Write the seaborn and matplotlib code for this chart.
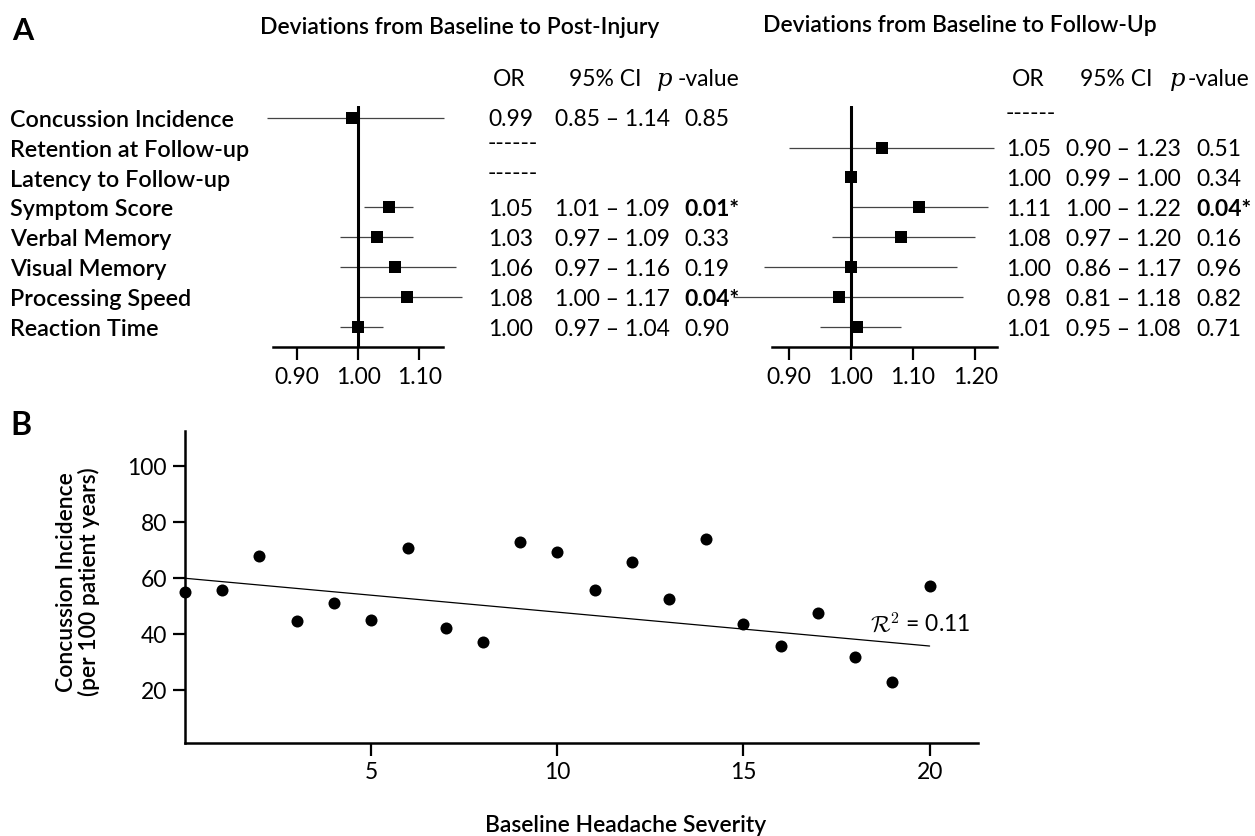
import numpy as np
import pandas as pd
import matplotlib
matplotlib.use("Agg")
import matplotlib.pyplot as plt
import matplotlib.transforms as mtransforms
from matplotlib.ticker import FormatStrFormatter
import seaborn as sns

# --- data -------------------------------------------------------------
rows = ["Concussion Incidence", "Retention at Follow-up", "Latency to Follow-up",
        "Symptom Score", "Verbal Memory", "Visual Memory", "Processing Speed",
        "Reaction Time"]

nan = np.nan
post_or = np.array([0.99, nan, nan, 1.05, 1.03, 1.06, 1.08, 1.00])
post_lo = np.array([0.85, nan, nan, 1.01, 0.97, 0.97, 1.00, 0.97])
post_hi = np.array([1.14, nan, nan, 1.09, 1.09, 1.16, 1.17, 1.04])
post_p = np.array([0.85, nan, nan, 0.01, 0.33, 0.19, 0.04, 0.90])

fu_or = np.array([nan, 1.05, 1.00, 1.11, 1.08, 1.00, 0.98, 1.01])
fu_lo = np.array([nan, 0.90, 0.99, 1.00, 0.97, 0.86, 0.81, 0.95])
fu_hi = np.array([nan, 1.23, 1.00, 1.22, 1.20, 1.17, 1.18, 1.08])
fu_p = np.array([nan, 0.51, 0.34, 0.04, 0.16, 0.96, 0.82, 0.71])

post_ticks = [0.90, 1.00, 1.10]
fu_ticks = [0.90, 1.00, 1.10, 1.20]

severity = np.arange(0, 21)
incidence = [54.8, 55.6, 67.8, 44.5, 50.8, 45.0, 70.7, 42.0, 37.2, 72.9, 69.3,
             55.6, 65.5, 52.3, 73.7, 43.6, 35.5, 47.5, 31.8, 22.8, 57.1]
fit_x = [0, 20]
fit_y = [59.8, 35.6]
r2_text = r"$\mathcal{R}^2$ = 0.11"

# --- style ------------------------------------------------------------
sns.set_theme(style="white", rc={"axes.edgecolor": "black", "text.color": "black",
                                 "xtick.color": "black", "ytick.color": "black"})
plt.rcParams["font.family"] = ["Lato", "DejaVu Sans"]
plt.rcParams["mathtext.fontset"] = "cm"

W, H = 1255, 837
fig = plt.figure(figsize=(W / 100, H / 100), dpi=100)


def rect(left, top, right, bottom):
    return [left / W, 1 - bottom / H, (right - left) / W, (bottom - top) / H]


FS = 16.5


def draw_forest(ax, or_vals, lo, hi, xlim, ticks):
    y = np.arange(len(rows))
    ok = ~np.isnan(or_vals)
    ax.hlines(y[ok], lo[ok], hi[ok], color="#444444", lw=0.9, clip_on=False, zorder=2)
    ax.axvline(1.0, color="black", lw=2.2, zorder=3)
    sns.scatterplot(x=or_vals[ok], y=y[ok], marker="s", s=72, color="black",
                    linewidth=0, ax=ax, zorder=4, clip_on=False)
    ax.set_xlim(xlim)
    ax.set_ylim(7.67, -0.39)
    ax.set_yticks([])
    ax.set_xticks(ticks)
    ax.xaxis.set_major_formatter(FormatStrFormatter("%.2f"))
    for s in ["left", "right", "top"]:
        ax.spines[s].set_visible(False)
    ax.spines["bottom"].set_linewidth(1.8)
    ax.tick_params(axis="x", direction="out", length=9.5, width=1.6,
                   labelsize=FS, pad=4, bottom=True)


def draw_table(ax, or_vals, lo, hi, pv, x_or, x_ci, x_p):
    tr = mtransforms.blended_transform_factory(fig.transFigure, ax.transData)
    for i in range(len(rows)):
        if np.isnan(or_vals[i]):
            fig.text(x_or / W, i + 0.05, "------", transform=tr, fontsize=FS,
                     va="baseline", ha="left")
            continue
        fig.text(x_or / W, i + 0.26, f"{or_vals[i]:.2f}", transform=tr,
                 fontsize=FS, va="baseline")
        fig.text(x_ci / W, i + 0.26, f"{lo[i]:.2f} \u2013 {hi[i]:.2f}", transform=tr,
                 fontsize=FS, va="baseline")
        sig = pv[i] < 0.05
        fig.text(x_p / W, i + 0.26, f"{pv[i]:.2f}" + ("*" if sig else ""),
                 transform=tr, fontsize=FS, va="baseline",
                 fontweight="bold" if sig else "normal")


def draw_header(x_or, x_ci, x_p, x_val):
    yb = 1 - 86 / H
    fig.text(x_or / W, yb, "OR", fontsize=FS, ha="center", va="baseline")
    fig.text(x_ci / W, yb, "95% CI", fontsize=FS, ha="center", va="baseline")
    fig.text(x_p / W, yb, "p", fontsize=FS + 1, ha="left", va="baseline",
             family="DejaVu Serif", style="italic")
    fig.text(x_val / W, yb, "-value", fontsize=FS, ha="left", va="baseline")


# --- panel A ----------------------------------------------------------
ax1 = fig.add_axes(rect(272.7, 107, 443.3, 348))
draw_forest(ax1, post_or, post_lo, post_hi, (0.8597, 1.1393), post_ticks)

ax2 = fig.add_axes(rect(771.7, 107, 997, 348))
draw_forest(ax2, fu_or, fu_lo, fu_hi, (0.8722, 1.2352), fu_ticks)

tr1 = mtransforms.blended_transform_factory(fig.transFigure, ax1.transData)
for i, name in enumerate(rows):
    fig.text(10 / W, i + 0.27, name, transform=tr1, fontsize=FS + 0.3, va="baseline",
             fontweight="semibold")

draw_table(ax1, post_or, post_lo, post_hi, post_p, 488, 555, 684)
draw_table(ax2, fu_or, fu_lo, fu_hi, fu_p, 1006, 1066, 1196)
draw_header(509, 605, 657, 678)
draw_header(1028, 1116, 1170, 1188)

fig.text(460 / W, 1 - 34 / H, "Deviations from Baseline to Post-Injury",
         fontsize=FS, fontweight="semibold", ha="center", va="baseline")
fig.text(960 / W, 1 - 32 / H, "Deviations from Baseline to Follow-Up",
         fontsize=FS, fontweight="semibold", ha="center", va="baseline")
fig.text(12 / W, 1 - 40 / H, "A", fontsize=22, fontweight="bold", va="baseline")
fig.text(10 / W, 1 - 435 / H, "B", fontsize=23, fontweight="bold", va="baseline")

# --- panel B ----------------------------------------------------------
axb = fig.add_axes(rect(185, 431.7, 978, 744.3))
sns.scatterplot(x=severity, y=incidence, s=75, color="black", linewidth=0,
                ax=axb, clip_on=False, zorder=3)
sns.lineplot(x=fit_x, y=fit_y, color="black", lw=0.9, ax=axb)
axb.set_xlim(0, 21.3)
axb.set_ylim(0.86, 112.5)
axb.set_xticks([5, 10, 15, 20])
axb.set_yticks([20, 40, 60, 80, 100])
for s in ["right", "top"]:
    axb.spines[s].set_visible(False)
for s in ["left", "bottom"]:
    axb.spines[s].set_linewidth(1.8)
axb.tick_params(direction="out", length=9, width=1.6, labelsize=FS, pad=4,
                bottom=True, left=True)
axb.text(18.4, 41.1, r2_text, fontsize=FS, va="baseline", ha="left")

fig.text(78 / W, 1 - 582 / H, "Concussion Incidence\n(per 100 patient years)",
         rotation=90, fontsize=FS, fontweight="semibold", ha="center", va="center",
         multialignment="center", linespacing=1.1)
fig.text(626 / W, 1 - 832 / H, "Baseline Headache Severity", fontsize=FS,
         fontweight="semibold", ha="center", va="baseline")

fig.savefig("out.png", dpi=100)
